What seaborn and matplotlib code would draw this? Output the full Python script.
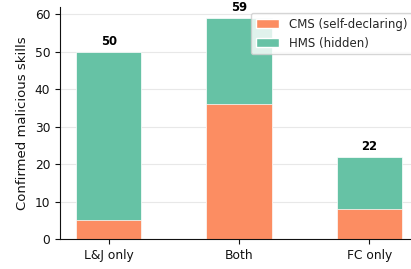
import matplotlib
matplotlib.use("Agg")
import matplotlib.pyplot as plt
import seaborn as sns
from matplotlib.patches import Patch

categories = ["L&J only", "Both", "FC only"]
cms_counts = [5, 36, 8]
hms_counts = [45, 23, 14]

CMS_COLOR = "#fc8d62"
HMS_COLOR = "#66c2a5"

sns.set_theme(style="whitegrid")
plt.rcParams["font.family"] = ["DejaVu Sans"]

totals = [c + h for c, h in zip(cms_counts, hms_counts)]

fig = plt.figure(figsize=(4.11, 2.69), dpi=100)
ax = fig.add_axes([60 / 411, 30 / 269, 358 / 411, 232 / 269])

# stacked: draw totals in HMS colour, then CMS on top of it
sns.barplot(x=categories, y=totals, color=HMS_COLOR, width=0.5, ax=ax,
            edgecolor="white", linewidth=0.5, saturation=1)
sns.barplot(x=categories, y=cms_counts, color=CMS_COLOR, width=0.5, ax=ax,
            edgecolor="white", linewidth=0.5, saturation=1)

for i, t in enumerate(totals):
    ax.text(i, t + 1.0, str(t), ha="center", va="bottom",
            fontsize=8.4, fontweight="bold", color="black")

ax.set_xlim(-0.375, 2.375)
ax.set_ylim(0, max(totals) * 1.05)
ax.set_ylabel("Confirmed malicious skills", fontsize=9.5, color="#111111")
ax.set_xlabel("")
ax.tick_params(axis="both", labelsize=8.8, length=3.5, width=0.8,
               colors="#111111", pad=3.5)
ax.tick_params(axis="both", which="major", bottom=True, left=True)
ax.grid(axis="x", visible=False)
ax.grid(axis="y", color="#e8e8e8", linewidth=0.8)
ax.set_axisbelow(True)
ax.set_facecolor("white")
for side in ["top", "right"]:
    ax.spines[side].set_visible(False)
for side in ["left", "bottom"]:
    ax.spines[side].set_color("#111111")
    ax.spines[side].set_linewidth(0.8)

handles = [Patch(facecolor=CMS_COLOR, label="CMS (self-declaring)"),
           Patch(facecolor=HMS_COLOR, label="HMS (hidden)")]
ax.legend(handles=handles, loc="upper right", fontsize=8.5, framealpha=0.8)

fig.savefig("out.png", dpi=100)
